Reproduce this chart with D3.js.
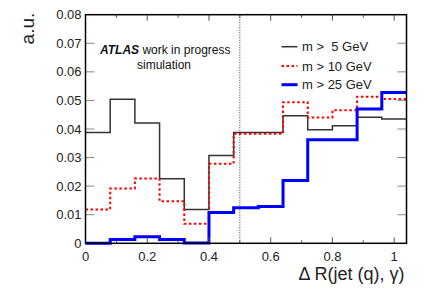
<!DOCTYPE html>
<html>
<head>
<meta charset="utf-8">
<script src="https://cdn.jsdelivr.net/npm/d3@7"></script>
<style>
  html, body { margin: 0; padding: 0; background: #fff; }
  svg { display: block; font-family: "Liberation Sans", Arial, sans-serif; }
</style>
</head>
<body>
<svg id="chart" width="427" height="290"></svg>
<script>
// bin edges of ΔR (width 0.08)
const binEdges = [0, 0.08, 0.16, 0.24, 0.32, 0.40, 0.48, 0.56, 0.64, 0.72, 0.80, 0.88, 0.96, 1.04];

// normalised entries per bin
const m5  = [0.0388, 0.0504, 0.0421, 0.0226, 0.0118, 0.0307, 0.0388, 0.0388, 0.0446, 0.0397, 0.0411, 0.0441, 0.0435];
const m10 = [0.0118, 0.0192, 0.0227, 0.0147, 0.0068, 0.0278, 0.0383, 0.0383, 0.0494, 0.0440, 0.0466, 0.0513, 0.0505];
const m25 = [0.0000, 0.0013, 0.0023, 0.0013, 0.0001, 0.0108, 0.0124, 0.0129, 0.0220, 0.0362, 0.0362, 0.0470, 0.0528];

const yTicks = [0, 0.01, 0.02, 0.03, 0.04, 0.05, 0.06, 0.07, 0.08];
const xTicks = [0, 0.2, 0.4, 0.6, 0.8, 1];
const xMinor = [0.1, 0.3, 0.5, 0.7, 0.9];

const seriesDefs = [
  { label: 'm >  5 GeV', values: m5,  color: '#333', width: 1.5, dash: null },
  { label: 'm > 10 GeV', values: m10, color: '#ff0000', width: 2, dash: '2.5,2.5' },
  { label: 'm > 25 GeV', values: m25, color: '#0000ff', width: 3, dash: null },
];

const svg = d3.select('#chart');
const M = { l: 85.5, r: 406.5, t: 14.7, b: 243.3 };

const x = d3.scaleLinear().domain([0, 1.04]).range([M.l, M.r]);
const y = d3.scaleLinear().domain([0, 0.08]).range([M.b, M.t]);

// histogram step paths
function stepPath(vals) {
  const pts = [];
  vals.forEach((v, i) => {
    pts.push([x(binEdges[i]), y(v)]);
    pts.push([x(binEdges[i + 1]), y(v)]);
  });
  return d3.line()(pts);
}
seriesDefs.forEach(s => {
  svg.append('path')
    .attr('d', stepPath(s.values))
    .attr('fill', 'none')
    .attr('stroke', s.color)
    .attr('stroke-width', s.width)
    .attr('stroke-dasharray', s.dash);
});

// dotted line at ΔR = 0.5
svg.append('line')
  .attr('x1', x(0.5)).attr('x2', x(0.5))
  .attr('y1', M.t).attr('y2', M.b)
  .attr('stroke', '#000').attr('stroke-width', 0.8)
  .attr('stroke-dasharray', '1,1.5');

// y ticks (left + right)
const tickG = svg.append('g');
yTicks.forEach(t => {
  if (t > 0 && t < 0.08) {
    tickG.append('line').attr('x1', M.l).attr('x2', M.l + 9).attr('y1', y(t)).attr('y2', y(t))
      .attr('stroke', '#888').attr('stroke-width', 1);
    tickG.append('line').attr('x1', M.r - 9).attr('x2', M.r).attr('y1', y(t)).attr('y2', y(t))
      .attr('stroke', '#888').attr('stroke-width', 1);
  }
  svg.append('text')
    .attr('x', M.l - 4).attr('y', y(t) + 4.5)
    .attr('text-anchor', 'end').attr('font-size', 13).attr('fill', '#222')
    .text(t === 0 ? '0' : d3.format('.2f')(t));
});

// x ticks (bottom + top)
xTicks.forEach(t => {
  [[M.b, -6], [M.t, 6]].forEach(([yy, d]) => {
    tickG.append('line').attr('x1', x(t)).attr('x2', x(t)).attr('y1', yy).attr('y2', yy + d)
      .attr('stroke', '#555').attr('stroke-width', 1);
  });
  svg.append('text')
    .attr('x', x(t)).attr('y', M.b + 18)
    .attr('text-anchor', 'middle').attr('font-size', 13).attr('fill', '#222')
    .text(t === 0 ? '0' : d3.format('~g')(t));
});
xMinor.forEach(t => {
  [[M.b, -3], [M.t, 3]].forEach(([yy, d]) => {
    tickG.append('line').attr('x1', x(t)).attr('x2', x(t)).attr('y1', yy).attr('y2', yy + d)
      .attr('stroke', '#555').attr('stroke-width', 1);
  });
});

// frame
svg.append('rect')
  .attr('x', M.l).attr('y', M.t).attr('width', M.r - M.l).attr('height', M.b - M.t)
  .attr('fill', 'none').attr('stroke', '#000').attr('stroke-width', 1.5);

// axis titles
svg.append('text')
  .attr('transform', `translate(34,${M.t - 2}) rotate(-90)`)
  .attr('text-anchor', 'end').attr('font-size', 19).attr('fill', '#222')
  .text('a.u.');
svg.append('text')
  .attr('x', M.r - 2).attr('y', 280)
  .attr('text-anchor', 'end').attr('font-size', 18).attr('fill', '#222')
  .text('Δ R(jet (q), γ)');

// ATLAS label
const atl = svg.append('text').attr('x', 100).attr('y', 54).attr('font-size', 12).attr('fill', '#111');
atl.append('tspan').attr('font-weight', 'bold').attr('font-style', 'italic').text('ATLAS');
atl.append('tspan').text(' work in progress');
svg.append('text').attr('x', 164).attr('y', 69).attr('text-anchor', 'middle')
  .attr('font-size', 12).attr('fill', '#111').text('simulation');

// legend
const legY = [46.7, 66, 84.7];
seriesDefs.forEach((s, i) => {
  svg.append('line')
    .attr('x1', 281.5).attr('x2', 297.5).attr('y1', legY[i]).attr('y2', legY[i])
    .attr('stroke', s.color).attr('stroke-width', s.width)
    .attr('stroke-dasharray', s.dash);
  svg.append('text')
    .attr('x', 302).attr('y', legY[i] + 4.5)
    .attr('font-size', 13).attr('fill', '#222')
    .attr('xml:space', 'preserve').style('white-space', 'pre')
    .text(s.label);
});
</script>
</body>
</html>
